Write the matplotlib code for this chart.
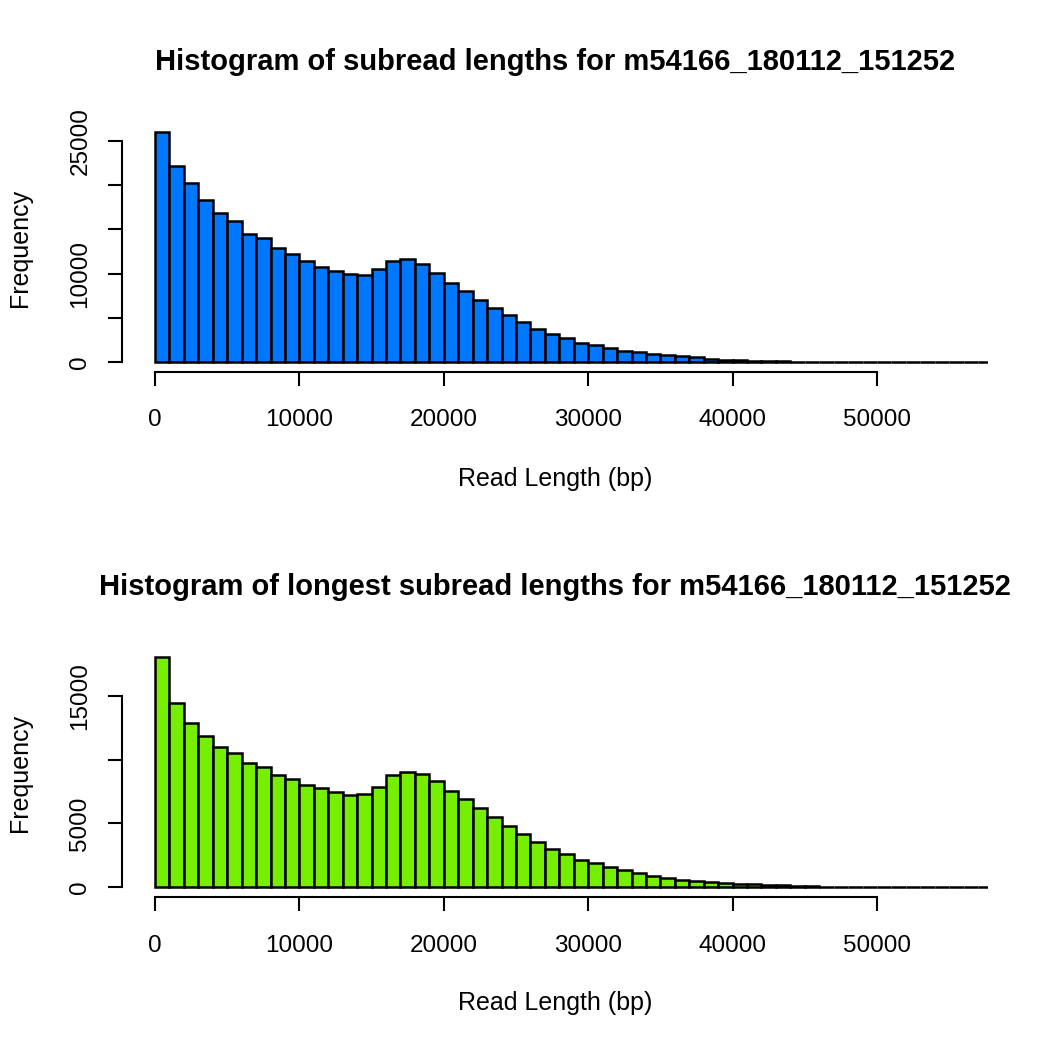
import matplotlib
matplotlib.use("Agg")
import matplotlib.pyplot as plt
import numpy as np

plt.rcParams['font.family'] = ['Liberation Sans', 'DejaVu Sans']

# ---- data ----
bin_width = 1000
n_bins = 58
subread_counts = [26050, 22200, 20300, 18350, 16800, 15900, 14500, 14000, 12900, 12250,
                  11400, 10800, 10300, 10000, 9850, 10550, 11450, 11700, 11100, 10100,
                  8970, 8000, 7050, 6150, 5350, 4560, 3770, 3200, 2700, 2180,
                  1880, 1540, 1280, 1090, 900, 750, 630, 520, 370, 260,
                  200, 150, 120, 100, 30, 20, 15, 10, 8, 6,
                  5, 4, 3, 2, 2, 1, 1, 1]
longest_counts = [18100, 14450, 12880, 11890, 11020, 10550, 9740, 9430, 8820, 8500,
                  8040, 7750, 7490, 7250, 7300, 7860, 8800, 9060, 8900, 8330,
                  7570, 6940, 6230, 5500, 4820, 4190, 3560, 2980, 2600, 2140,
                  1850, 1540, 1300, 1070, 830, 730, 570, 490, 360, 330,
                  260, 200, 150, 120, 80, 70, 25, 15, 10, 8,
                  6, 5, 4, 3, 2, 2, 1, 1]
x_ticks = [0, 10000, 20000, 30000, 40000, 50000]
top_yticks = [0, 5000, 10000, 15000, 20000, 25000]
top_ylabels = ["0", "", "10000", "", "", "25000"]
bot_yticks = [0, 5000, 10000, 15000]
bot_ylabels = ["0", "5000", "", "15000"]
titles = ["Histogram of subread lengths for m54166_180112_151252",
          "Histogram of longest subread lengths for m54166_180112_151252"]
colors = ["#0077FF", "#76EE00"]

edges = np.arange(n_bins + 1) * bin_width

W = H = 1050
fig = plt.figure(figsize=(10.5, 10.5), dpi=100)

def px_axes(left, top, right, bottom):
    return fig.add_axes([left / W, 1 - bottom / H, (right - left) / W, (bottom - top) / H])

panels = [
    dict(counts=subread_counts, top=123, bottom=372, zero=362, scale=8.84,
         yticks=top_yticks, ylabels=top_ylabels, title_y=62, xlab_y=479),
    dict(counts=longest_counts, top=648, bottom=897, zero=887, scale=12.73,
         yticks=bot_yticks, ylabels=bot_ylabels, title_y=587, xlab_y=1003),
]

left, right, x0px, xscale = 122, 988, 155, 14.44

for i, p in enumerate(panels):
    ax = px_axes(left, p['top'], right, p['bottom'])
    ax.bar(edges[:-1], p['counts'], width=np.diff(edges), align='edge',
           color=colors[i], edgecolor='black', linewidth=1.8)
    ax.set_xlim(-(x0px - left) / xscale * 1000, (right - x0px) / xscale * 1000)
    ax.set_ylim(-(p['bottom'] - p['zero']) / p['scale'] * 1000,
                (p['zero'] - p['top']) / p['scale'] * 1000)
    for s in ['top', 'right']:
        ax.spines[s].set_visible(False)
    for s in ['bottom', 'left']:
        ax.spines[s].set_linewidth(1.5)
    ax.spines['bottom'].set_bounds(x_ticks[0], x_ticks[-1])
    ax.spines['left'].set_bounds(p['yticks'][0], p['yticks'][-1])
    ax.set_xticks(x_ticks)
    ax.set_xticklabels([str(t) for t in x_ticks])
    ax.set_yticks(p['yticks'])
    ax.set_yticklabels(p['ylabels'], rotation=90, va='center')
    ax.tick_params(axis='both', length=10, width=1.5, labelsize=17.5, direction='out')
    ax.tick_params(axis='x', pad=17)
    ax.tick_params(axis='y', pad=12)
    cx = (left + right) / 2 / W
    fig.text(cx, 1 - p['title_y'] / H, titles[i], ha='center', va='center',
             fontsize=21, fontweight='bold')
    fig.text(cx, 1 - p['xlab_y'] / H, "Read Length (bp)", ha='center', va='center',
             fontsize=18)
    fig.text(20 / W, 1 - (p['top'] + p['bottom']) / 2 / H, "Frequency", ha='center',
             va='center', rotation=90, fontsize=18)

fig.savefig("out.png", dpi=100, facecolor='white')
